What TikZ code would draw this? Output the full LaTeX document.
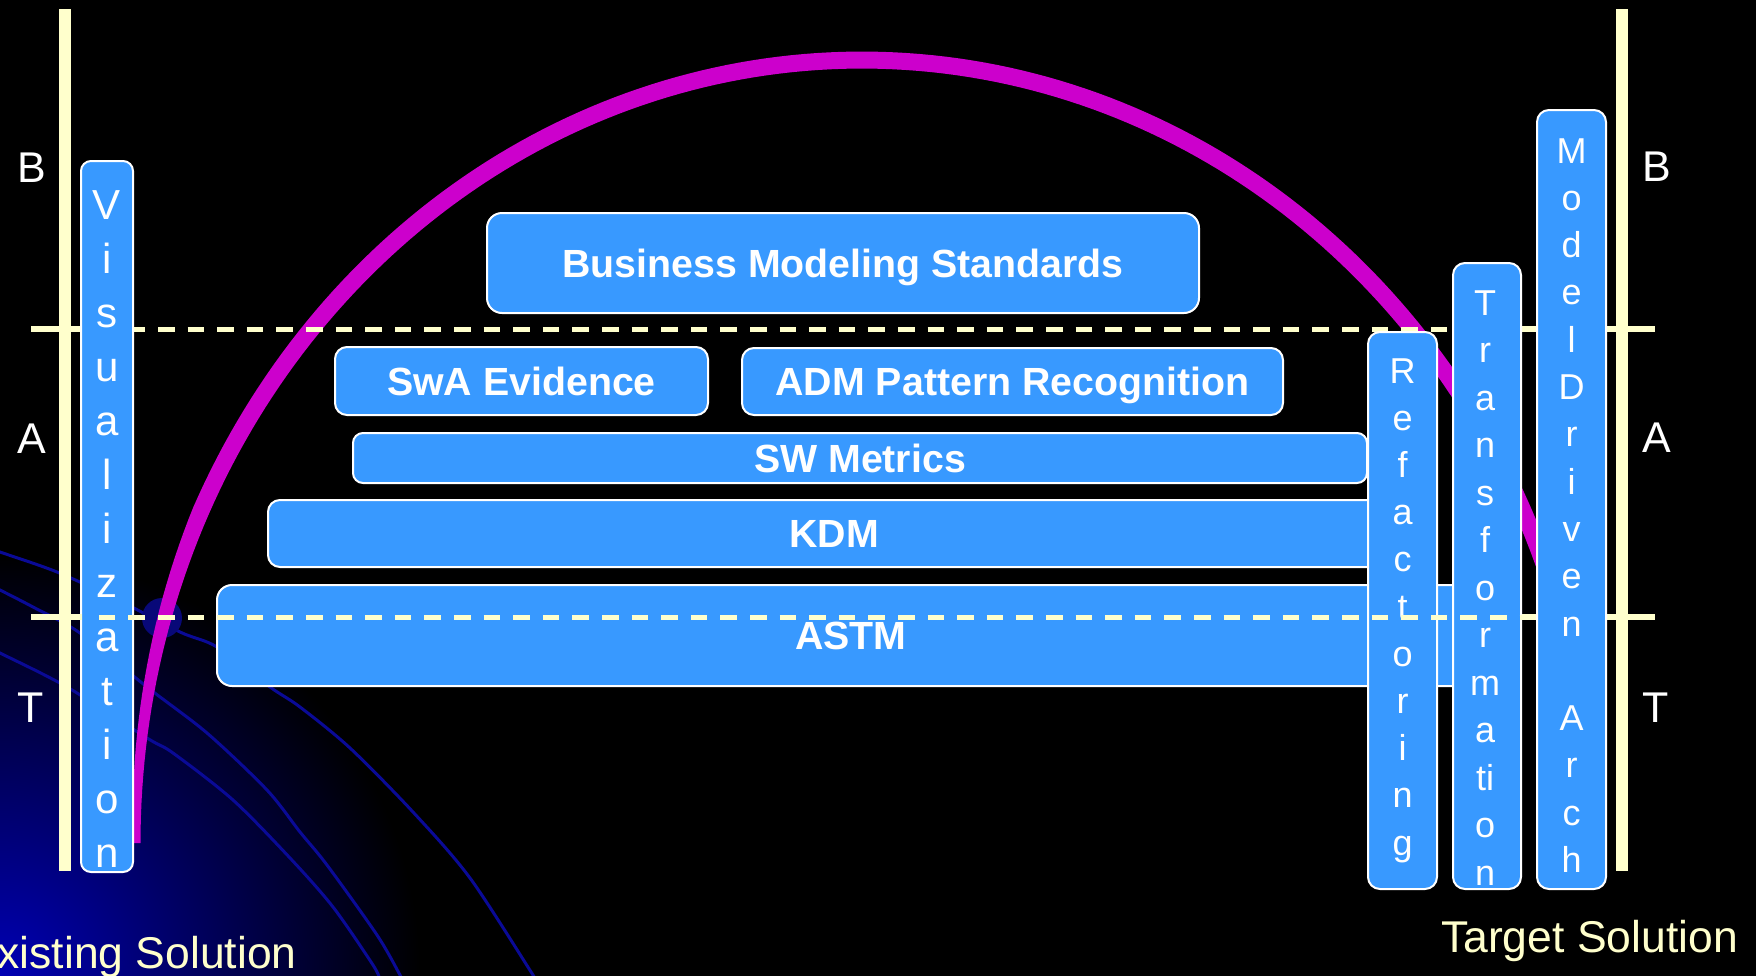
\documentclass[tikz,border=0pt]{standalone}
\usepackage{fontspec}
\setmainfont{Liberation Sans}
\definecolor{boxblue}{RGB}{56,153,255}
\definecolor{cream}{RGB}{255,255,204}
\definecolor{arcmag}{RGB}{204,0,204}
\definecolor{navyline}{RGB}{10,10,150}
\definecolor{navydot}{RGB}{8,8,120}
\definecolor{glowblue}{RGB}{0,0,180}
\tikzset{
  panel/.style={draw=white, line width=2pt, fill=boxblue, rounded corners=13pt, inner sep=0pt, text=white,
    font=\fontsize{39.3}{39.3}\selectfont\bfseries, text height=28pt, text depth=0pt},
  vlet/.style={text=white, font=\fontsize{36}{36}\selectfont, inner sep=0pt, anchor=base},
  vletbig/.style={text=white, font=\fontsize{42}{42}\selectfont, inner sep=0pt, anchor=base},
  sidelab/.style={text=white, font=\fontsize{43}{43}\selectfont, inner sep=0pt, anchor=base},
  sollab/.style={text=cream, font=\fontsize{44.5}{44.5}\selectfont, inner sep=0pt},
  bgline/.style={navyline, line width=3pt},
  creamtick/.style={cream, line width=5.5pt},
  creamdash/.style={cream, line width=5pt, dash pattern=on 16.6pt off 13pt},
}
\begin{document}
\begin{tikzpicture}[x=1pt,y=-1pt]
\useasboundingbox (0,0) rectangle (1756,975);
\clip (-3,-3) rectangle (1759,978);
\fill[black] (-5,-5) rectangle (1761,980);
% glow bottom-left
\shade[inner color=glowblue, outer color=black] (0,975) circle[radius=420pt];
% background navy arcs
\draw[bgline] plot[smooth] coordinates {(-10,548) (0,552) (57,572) (120,601) (180,632) (217,647) (270,687) (300,707) (350,748) (413,812) (470,878) (533,975) (543,992)};
\draw[bgline] plot[smooth] coordinates {(-10,585) (0,590) (33,607) (80,633) (147,687) (207,733) (267,790) (300,832) (327,865) (377,935) (400,975) (407,990)};
\draw[bgline] plot[smooth] coordinates {(-10,648) (0,653) (67,687) (147,738) (173,753) (233,800) (290,858) (333,907) (373,965) (380,980)};
\fill[navydot] (162,618) circle[radius=20pt];
% magenta arc (tapering at its lower left end)
\fill[arcmag] plot[domain=180:360, samples=180] ({862+(730+min(8.5,-1+9.5*(\x-180)/25))*cos(\x)}, {843+(783+min(8.5,-1+9.5*(\x-180)/25))*sin(\x)})
  -- plot[domain=360:180, samples=180] ({862+(730-8.5)*cos(\x)}, {843+(783-8.5)*sin(\x)}) -- cycle;
% cream vertical rules
\draw[cream, line width=12pt] (65,9) -- (65,871);
\draw[cream, line width=12pt] (1622,9) -- (1622,871);
% upper dashed rule
\draw[creamtick] (31,329) -- (100,329);
\draw[creamdash] (98.8,329) -- (1522,329);
\draw[creamtick] (1522,329) -- (1655,329);
% horizontal boxes
\node[panel, minimum width=712pt, minimum height=100pt, rounded corners=15pt] (bms) at (843,263) {Business Modeling Standards};
\node[panel, minimum width=373pt, minimum height=68pt, rounded corners=12pt] (swa) at (521.5,381) {SwA Evidence};
\node[panel, minimum width=541pt, minimum height=67pt, rounded corners=12pt] (adm) at (1012.5,381.5) {ADM Pattern Recognition};
\node[panel, minimum width=1014pt, minimum height=50pt, rounded corners=10pt] (swm) at (860,458) {SW Metrics};
\node[panel, minimum width=1132pt, minimum height=67pt, rounded corners=12pt] (kdm) at (834,533.5) {KDM};
\node[panel, minimum width=1268pt, minimum height=101pt, rounded corners=15pt] (astm) at (851,635.5) {ASTM};
% vertical boxes
\node[panel, minimum width=52pt, minimum height=711pt, rounded corners=10pt] (vis) at (107,516.5) {};
\node[panel, minimum width=69pt, minimum height=557pt, rounded corners=12pt] (ref) at (1402.5,610.5) {};
\node[panel, minimum width=68pt, minimum height=626pt, rounded corners=12pt] (trn) at (1487,576) {};
\foreach \l [count=\i from 0] in {V,i,s,u,a,l,i,z,a,t,i,o,n}
  \node[vletbig] (vis-\i) at (107,{219+54*\i}) {\l};
\foreach \l [count=\i from 0] in {R,e,f,a,c,t,o,r,i,n,g}
  \node[vlet] (ref-\i) at (1402.5,{383+47.2*\i}) {\l};
\foreach \l [count=\i from 0] in {T,r,a,n,s,f,o,r,m,a,ti,o,n}
  \node[vlet] (trn-\i) at (1485,{315+47.5*\i}) {\l};
% lower dashed rule
\draw[creamtick] (31,617) -- (82,617);
\draw[creamdash] (98.8,617) -- (1522,617);
\draw[creamtick] (1522,617) -- (1655,617);
% model driven arch box
\node[panel, minimum width=69pt, minimum height=779pt, rounded corners=12pt] (mda) at (1571.5,499.5) {};
\foreach \l/\k in {M/0,o/1,d/2,e/3,l/4,D/5,r/6,i/7,v/8,e/9,n/10,A/12,r/13,c/14,h/15}
  \node[vlet] (mda-\k) at (1571.5,{163+47.3*\k}) {\l};
% side labels
\node[sidelab] (lb) at (32,182) {B};
\node[sidelab] (la) at (32,453) {A};
\node[sidelab] (lt) at (31,722) {T};
\node[sidelab] (rb) at (1657,181) {B};
\node[sidelab] (ra) at (1657,452) {A};
\node[sidelab] (rt) at (1656,722) {T};
% solution labels
\node[sollab, anchor=base east] (exs) at (297,968) {Existing Solution};
\node[sollab, anchor=base] (tgs) at (1589.5,952) {Target Solution};
\end{tikzpicture}
\end{document}
